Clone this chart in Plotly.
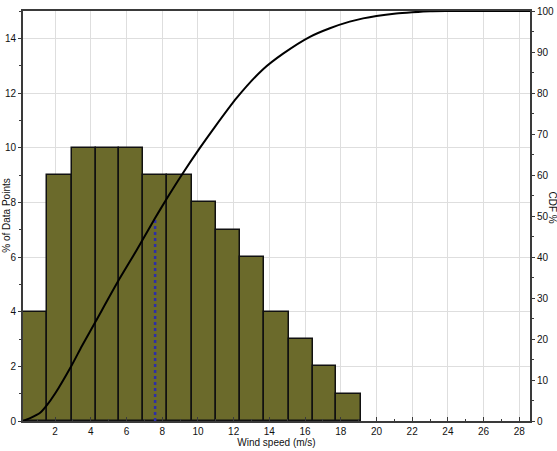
import plotly.graph_objects as go

# Histogram bins (wind speed, m/s) and % of data points
bin_edges = [0.21, 1.53, 2.93, 4.28, 5.58, 6.94, 8.28, 9.65, 11.02, 12.35,
             13.69, 15.09, 16.44, 17.74, 19.14]
pct_points = [4, 9, 10, 10, 10, 9, 9, 8, 7, 6, 4, 3, 2, 1]

# Cumulative distribution (%)
cdf_x = [0.2, 0.6, 1.16, 1.53, 2.0, 2.93, 3.5, 4.26, 5.5, 6.57, 7.6, 8.25,
         9.09, 10.11, 10.86, 12.17, 13.65, 14.77, 16.27, 17.39, 18.5, 19.25,
         20.0, 21.1, 22.0, 23.0, 24.0, 26.0, 28.6]
cdf_y = [0, 0.7, 2.0, 3.8, 6.7, 13.6, 18.3, 24.2, 33.9, 41.7, 49.5, 54.2,
         60.0, 66.6, 71.2, 78.8, 85.8, 89.6, 93.7, 95.8, 97.4, 98.2,
         98.8, 99.4, 99.7, 99.95, 100, 100, 100]

# Median marker
median_x = [7.6, 7.6]
median_y = [0, 49.5]

centers = [(a + b) / 2 for a, b in zip(bin_edges[:-1], bin_edges[1:])]
widths = [b - a for a, b in zip(bin_edges[:-1], bin_edges[1:])]

FONT = "Liberation Sans"
AX = "#3a3a3a"

fig = go.Figure()
fig.add_trace(go.Bar(
    x=centers, y=pct_points, width=widths,
    marker=dict(color="#6b6a2b", line=dict(color="#111111", width=1.5)),
    yaxis="y", showlegend=False,
))
fig.add_trace(go.Scatter(
    x=median_x, y=median_y, yaxis="y2", mode="lines",
    line=dict(color="#2e2ea8", width=2.5, dash="dot"), showlegend=False,
))
fig.add_trace(go.Scatter(
    x=cdf_x, y=cdf_y, yaxis="y2", mode="lines",
    line=dict(color="#000000", width=2, shape="spline", smoothing=0.7),
    showlegend=False,
))

fig.update_layout(
    width=557, height=451,
    margin=dict(l=23, r=27, t=11, b=30),
    paper_bgcolor="white", plot_bgcolor="white",
    font=dict(family=FONT, size=10, color="#111111"),
    bargap=0,
    xaxis=dict(
        range=[0.2, 28.6], tickvals=list(range(2, 30, 2)), automargin=False,
        showgrid=True, gridcolor="#dedede", gridwidth=1,
        showline=True, linecolor=AX, linewidth=2, mirror=True,
        ticks="inside", ticklen=4, tickcolor=AX,
        minor=dict(dtick=1, tick0=0, ticks="inside", ticklen=2, tickcolor=AX, showgrid=False),
        zeroline=False, tickfont=dict(size=10),
        title=dict(text="Wind speed (m/s)", font=dict(size=10), standoff=2),
    ),
    yaxis=dict(
        range=[0, 15], tickvals=list(range(0, 16, 2)), automargin=False,
        showgrid=True, gridcolor="#dedede", gridwidth=1,
        showline=True, linecolor=AX, linewidth=2,
        ticks="outside", ticklen=3, tickcolor=AX,
        minor=dict(dtick=1, tick0=0, ticks="outside", ticklen=2, tickcolor=AX, showgrid=False),
        zeroline=False, tickfont=dict(size=10),
    ),
    yaxis2=dict(
        range=[0, 100], tickvals=list(range(0, 101, 10)), automargin=False,
        overlaying="y", side="right", showgrid=False,
        showline=True, linecolor=AX, linewidth=2,
        ticks="outside", ticklen=3, tickcolor=AX,
        minor=dict(dtick=5, tick0=0, ticks="outside", ticklen=2, tickcolor=AX),
        zeroline=False, tickfont=dict(size=10),
    ),
    annotations=[
        dict(text="% of Data Points", xref="paper", yref="paper",
             x=-0.034, y=0.5, xanchor="center", yanchor="middle",
             textangle=-90, showarrow=False, font=dict(size=10)),
        dict(text="CDF %", xref="paper", yref="paper",
             x=1.044, y=0.52, xanchor="center", yanchor="middle",
             textangle=90, showarrow=False, font=dict(size=10)),
    ],
)

fig.write_html("out.html", config={"displayModeBar": False})

# remove the default browser body margin so the figure sits at the page origin
with open("out.html", "r", encoding="utf-8") as f:
    html = f.read()
html = html.replace("<body>", '<body style="margin:0;padding:0;overflow:hidden">', 1)
with open("out.html", "w", encoding="utf-8") as f:
    f.write(html)
